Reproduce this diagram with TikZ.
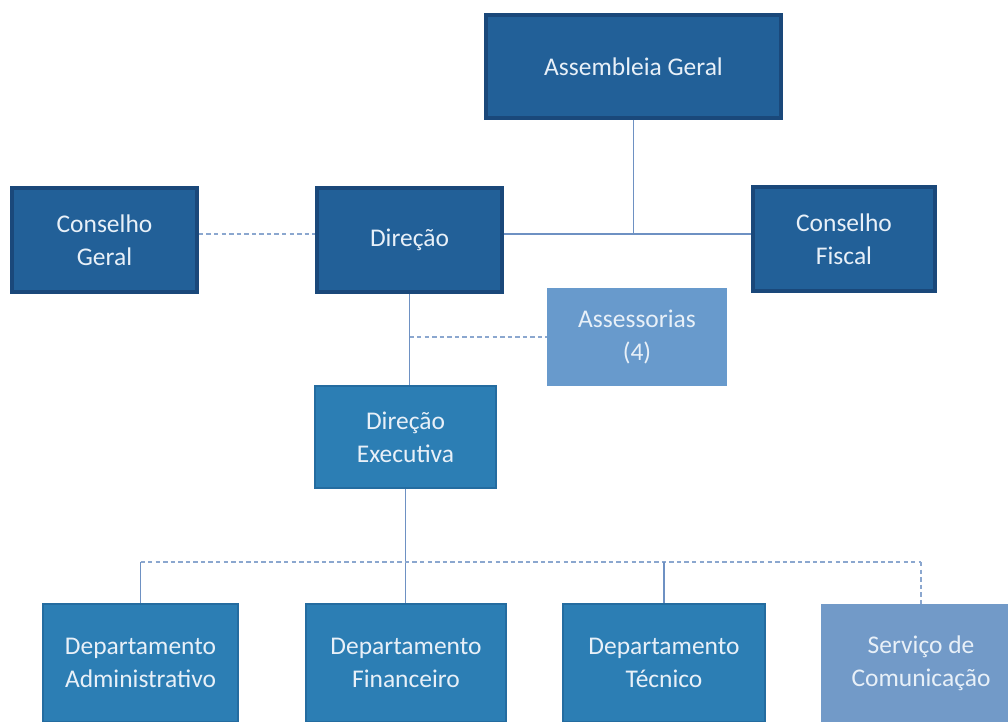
\documentclass[tikz,border=0pt]{standalone}
\usepackage{fontspec}
\setmainfont{Carlito}
\definecolor{DeepBlue}{RGB}{34, 96, 152}
\definecolor{DeepEdge}{RGB}{26, 72, 122}
\definecolor{MidBlue}{RGB}{44, 126, 180}
\definecolor{MidEdge}{RGB}{36, 108, 160}
\definecolor{PaleBlue}{RGB}{104, 154, 204}
\definecolor{GreyBlue}{RGB}{114, 154, 200}
\definecolor{LinkBlue}{RGB}{110, 145, 195}
\definecolor{BoxText}{RGB}{232, 240, 248}
\usetikzlibrary{positioning, calc}

\begin{document}
\begin{tikzpicture}[x=0.02cm, y=-0.02cm,
    box/.style={rectangle, align=center, text=BoxText, inner sep=0pt,
                font=\fontsize{14.5}{18.8}\selectfont},
    topbox/.style={box, fill=DeepBlue, draw=DeepEdge, line width=2.2pt},
    midbox/.style={box, fill=MidBlue, draw=MidEdge, line width=0.8pt},
    link/.style={LinkBlue, line width=0.6pt},
    weaklink/.style={LinkBlue!80, line width=0.6pt, dash pattern=on 2.5pt off 1.8pt}]

        % Frame
        \useasboundingbox (0,0) rectangle (1008,722);
        \clip (0,0) rectangle (1008,722);

        % Governing bodies
        \node[topbox, minimum width=5.9cm, minimum height=2.06cm] (ag) at (633.5,66.5) {Assembleia Geral};
        \node[topbox, minimum width=3.7cm, minimum height=2.08cm] (cg) at (104.5,240) {Conselho\\Geral};
        \node[topbox, minimum width=3.7cm, minimum height=2.08cm] (dir) at (409.5,240) {Direção};
        \node[topbox, minimum width=3.64cm, minimum height=2.08cm] (cf) at (844,239) {Conselho\\Fiscal};

        % Advisors and executive board
        \node[box, fill=PaleBlue, minimum width=3.6cm, minimum height=1.96cm] (ass) at (637,337) {Assessorias\\(4)};
        \node[midbox, minimum width=3.62cm, minimum height=2.04cm] (dex) at (405.5,437) {Direção\\Executiva};

        % Departments
        \node[midbox, minimum width=3.9cm, minimum height=2.36cm] (dadm) at (140.5,663) {Departamento\\Administrativo};
        \node[midbox, minimum width=4.0cm, minimum height=2.36cm] (dfin) at (406,663) {Departamento\\Financeiro};
        \node[midbox, minimum width=4.04cm, minimum height=2.36cm] (dtec) at (664,663) {Departamento\\Técnico};
        \node[box, fill=GreyBlue, minimum width=4.0cm, minimum height=2.36cm] (scom) at (921,663) {Serviço de\\Comunicação};

        % Upper links
        \coordinate (hub) at ($(dir.east)+(0,-6)$);
        \draw[link] (ag.south) -- (ag.south |- hub);
        \draw[link] (dir.east |- hub) -- (cf.west |- hub);
        \draw[weaklink] (cg.east |- hub) -- (dir.west |- hub);
        \draw[link] (dir.south) -- (dir.south |- dex.north);
        \draw[weaklink] (dir.south |- ass.west) -- (ass.west);

        % Lower links
        \coordinate (bus) at (0,562);
        \draw[link] (dex.south) -- (dex.south |- dfin.north);
        \draw[weaklink] (dadm.north |- bus) -- (scom.north |- bus);
        \draw[link] (dadm.north |- bus) -- (dadm.north);
        \draw[link] (dtec.north |- bus) -- (dtec.north);
        \draw[weaklink] (scom.north |- bus) -- (scom.north);
    \end{tikzpicture}
\end{document}
